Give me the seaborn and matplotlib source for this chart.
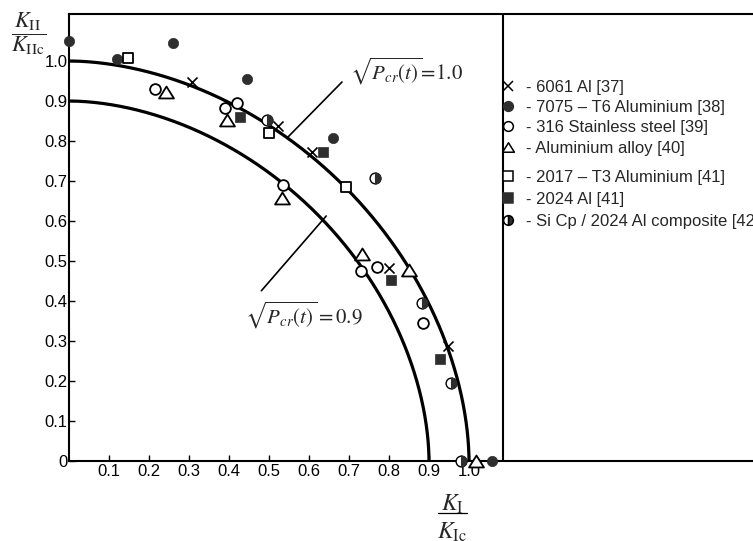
import numpy as np
import pandas as pd
import matplotlib
matplotlib.use("Agg")
import matplotlib.pyplot as plt
import seaborn as sns
from matplotlib.lines import Line2D
from matplotlib.markers import MarkerStyle
from matplotlib.path import Path

# ---------------- data ----------------
x_6061 = [0.307, 0.523, 0.607, 0.801, 0.948]
y_6061 = [0.948, 0.8375, 0.773, 0.482, 0.288]

x_7075 = [0.0, 0.121, 0.261, 0.444, 0.661, 1.057]
y_7075 = [1.05, 1.006, 1.046, 0.955, 0.807, 0.0]

x_316 = [0.215, 0.39, 0.419, 0.534, 0.73, 0.771, 0.886]
y_316 = [0.93, 0.882, 0.894, 0.69, 0.476, 0.484, 0.346]

x_alloy = [0.2425, 0.394, 0.532, 0.732, 0.851, 1.017]
y_alloy = [0.923, 0.8525, 0.657, 0.5175, 0.4775, 0.0]

x_2017 = [0.148, 0.50, 0.6925]
y_2017 = [1.008, 0.821, 0.684]

x_2024 = [0.4275, 0.636, 0.804, 0.9275]
y_2024 = [0.861, 0.773, 0.4525, 0.255]

x_sicp = [0.494, 0.765, 0.882, 0.955, 0.98]
y_sicp = [0.8525, 0.707, 0.396, 0.196, 0.0]

series_labels = [
    "- 6061 Al [37]",
    "- 7075 \u2013 T6 Aluminium [38]",
    "- 316 Stainless steel [39]",
    "- Aluminium alloy [40]",
    "- 2017 \u2013 T3 Aluminium [41]",
    "- 2024 Al [41]",
    "- Si Cp / 2024 Al composite [42]",
]

# theoretical failure curves  (K_I)^p + (K_II)^p = sqrt(P_cr)^p
curve_levels = [1.0, 0.9]
curve_exponent = 1.85
curve_labels = [r"$\sqrt{P_{cr}(t)}\!=\!1.0$", r"$\sqrt{P_{cr}(t)} = 0.9$"]

xtick_values = [0.1, 0.2, 0.3, 0.4, 0.5, 0.6, 0.7, 0.8, 0.9, 1.0]
xtick_labels = ["0.1", "0.2", "0.3", "0.4", "0.5", "0.6", "0.7", "0.8", "0.9", "1.0"]
ytick_values = [0.0, 0.1, 0.2, 0.3, 0.4, 0.5, 0.6, 0.7, 0.8, 0.9, 1.0]
ytick_labels = ["0", "0.1", "0.2", "0.3", "0.4", "0.5", "0.6", "0.7", "0.8", "0.9", "1.0"]

# ---------------- style ----------------
sns.set_style("white")
plt.rcParams["font.family"] = ["Liberation Sans", "DejaVu Sans"]
plt.rcParams["mathtext.fontset"] = "stix"

DARK = "#2e2e2e"
FS = 12

fig = plt.figure(figsize=(7.53, 5.41), dpi=100)
W, H = 753, 541
ax = fig.add_axes([69 / W, 80 / H, 684 / W, 447 / H])
ax.set_xlim(0, 684 / 400)
ax.set_ylim(0, 447 / 400)

# curves
for r in curve_levels:
    t = np.linspace(0, np.pi / 2, 600)
    cx = r * np.clip(np.cos(t), 0, None) ** (2 / curve_exponent)
    cy = r * np.clip(np.sin(t), 0, None) ** (2 / curve_exponent)
    sns.lineplot(x=cx, y=cy, sort=False, estimator=None, color="black",
                 lw=2.3, ax=ax, zorder=2)

# divider between plot and legend panel
ax.axvline(1.0858, color="black", lw=1.5, zorder=1)

def scat(x, y, **kw):
    df = pd.DataFrame({"x": x, "y": y})
    sns.scatterplot(data=df, x="x", y="y", ax=ax, zorder=4, clip_on=False,
                    legend=False, **kw)

tri = MarkerStyle(Path([(-1, -0.8), (1, -0.8), (0, 0.8), (-1, -0.8)], closed=True))

scat(x_6061, y_6061, marker="x", s=52, color="black", linewidth=1.2)
scat(x_7075, y_7075, marker="o", s=55, color=DARK, edgecolor=DARK, linewidth=0.5)
scat(x_316, y_316, marker="o", s=60, color="white", edgecolor="black", linewidth=1.3)
scat(x_alloy, y_alloy, marker=tri, s=115, color="white", edgecolor="black", linewidth=1.3)
scat(x_2017, y_2017, marker="s", s=55, color="white", edgecolor="black", linewidth=1.3)
scat(x_2024, y_2024, marker="s", s=62, color=DARK, edgecolor=DARK, linewidth=0.5)
scat(x_sicp, y_sicp, marker="o", s=60, color="white", edgecolor="black", linewidth=1.0)
scat(x_sicp, y_sicp, marker=MarkerStyle("o", fillstyle="right"), s=60,
     color=DARK, edgecolor=DARK, linewidth=0.8)

# annotation leader lines and labels
ax.annotate("", xy=(0.545, 0.8075), xytext=(0.6825, 0.9475),
            arrowprops=dict(arrowstyle="-", lw=1.2, color="black",
                            shrinkA=0, shrinkB=0))
ax.text(0.703, 0.975, curve_labels[0], fontsize=15, ha="left", va="center")
ax.annotate("", xy=(0.643, 0.6125), xytext=(0.481, 0.4257),
            arrowprops=dict(arrowstyle="-", lw=1.2, color="black",
                            shrinkA=0, shrinkB=0))
ax.text(0.44, 0.365, curve_labels[1], fontsize=15, ha="left", va="center")

# spines and ticks
for side in ["left", "top", "bottom"]:
    ax.spines[side].set_visible(True)
    ax.spines[side].set_linewidth(1.5)
    ax.spines[side].set_color("black")
ax.spines["right"].set_visible(False)

ax.set_xticks(xtick_values)
ax.set_xticklabels(xtick_labels)
ax.set_yticks(ytick_values)
ax.set_yticklabels(ytick_labels)
ax.tick_params(axis="both", direction="in", length=4, width=1.0, colors="black",
               labelsize=FS, pad=2)
ax.tick_params(axis="x", bottom=True, top=False)
ax.tick_params(axis="y", left=True, right=False, pad=1)
ax.set_xlabel("")
ax.set_ylabel("")

# axis labels as fractions
fig.text(29 / W, 1 - 34 / H, r"$\dfrac{K_{\mathrm{II}}}{K_{\mathrm{IIc}}}$",
         fontsize=16, ha="center", va="center")
fig.text(452 / W, 1 - 511 / H, r"$K_{\mathrm{I}}$", fontsize=17,
         ha="center", va="baseline")
fig.add_artist(Line2D([438 / W, 467 / W], [1 - 513 / H, 1 - 513 / H],
                      transform=fig.transFigure, color="black", lw=0.9))
fig.text(452 / W, 1 - 521 / H, r"$K_{\mathrm{Ic}}$", fontsize=17,
         ha="center", va="top")

# legend (two groups as in the reference)
def handle(**kw):
    base = dict(ls="none", markersize=7, markeredgecolor="black", markeredgewidth=1.1)
    base.update(kw)
    return Line2D([0], [0], **base)

handles = [
    handle(marker="x", color="black"),
    handle(marker="o", markerfacecolor=DARK, markeredgecolor=DARK),
    handle(marker="o", markerfacecolor="white"),
    handle(marker=tri, markerfacecolor="white", markersize=8.5),
    handle(marker="s", markerfacecolor="white"),
    handle(marker="s", markerfacecolor=DARK, markeredgecolor=DARK),
    handle(marker="o", fillstyle="right", markerfacecolor=DARK,
           markerfacecoloralt="white"),
]

leg_kw = dict(frameon=False, fontsize=FS, handlelength=0.8, handletextpad=0.72,
              borderpad=0, borderaxespad=0, loc="upper left",
              bbox_transform=fig.transFigure)
leg1 = ax.legend(handles[:4], series_labels[:4], labelspacing=0.31,
                 bbox_to_anchor=(501 / W, 1 - 80 / H), **leg_kw)
ax.add_artist(leg1)
leg2 = ax.legend(handles[4:], series_labels[4:], labelspacing=0.41,
                 bbox_to_anchor=(501 / W, 1 - 170 / H), **leg_kw)

fig.savefig("out.png", dpi=100)
